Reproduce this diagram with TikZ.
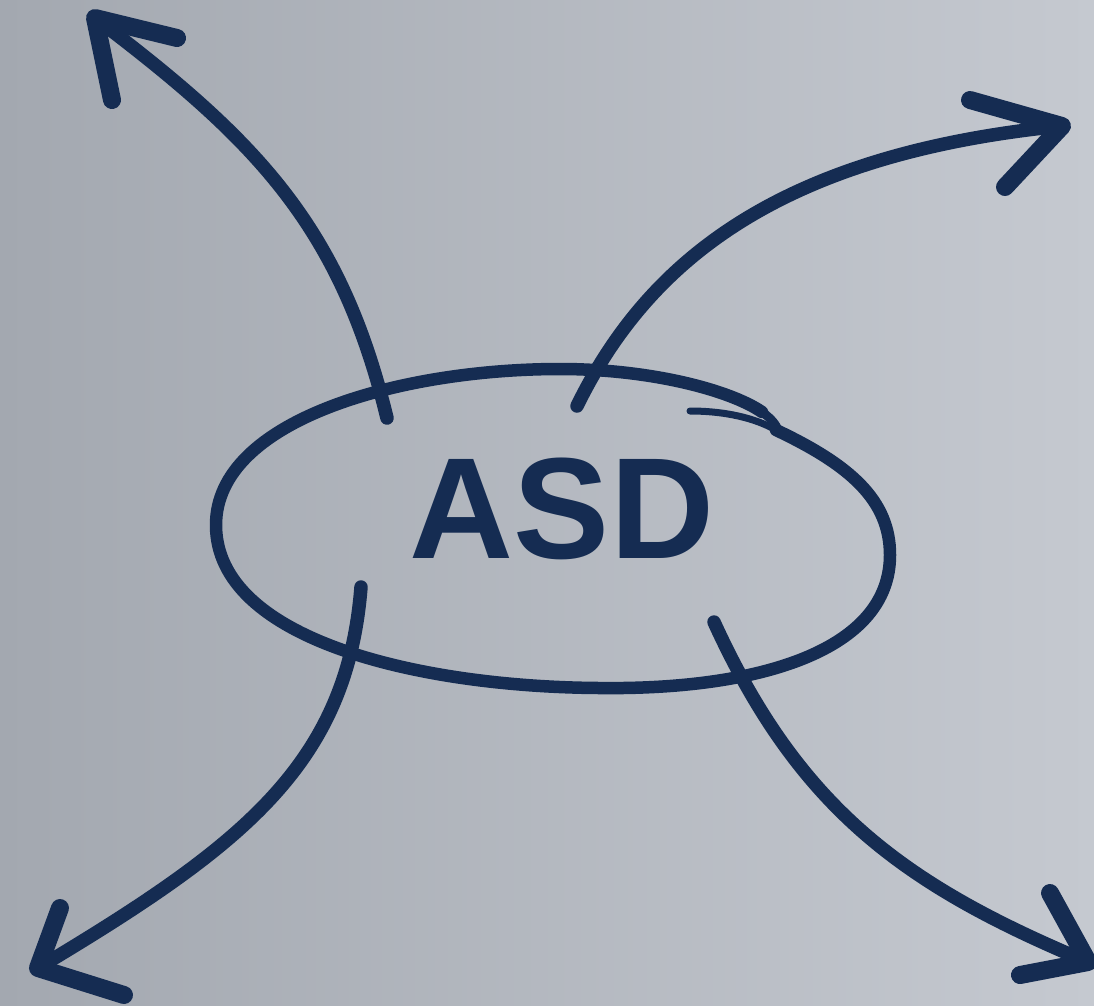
\documentclass[tikz,border=0pt]{standalone}
\usepackage{fontspec}
\setmainfont{Liberation Sans}
\begin{document}
\definecolor{ink}{RGB}{21,44,82}
\definecolor{bgleft}{RGB}{163,168,176}
\definecolor{bgright}{RGB}{197,201,208}
\begin{tikzpicture}[x=1pt,y=-1pt,
  stroke/.style={draw=ink,line width=13.5pt,line cap=round,line join=round},
  tail/.style={draw=ink,line width=7pt,line cap=round},
  head/.style={draw=ink,line width=18pt,line cap=round,line join=round}]
  % canvas with soft horizontal gradient
  \useasboundingbox (0,0) rectangle (1094,1005);
  \shade[left color=bgleft,right color=bgright] (0,0) rectangle (1094,1005);
  \clip (0,0) rectangle (1094,1005);

  % label in the middle
  \node[anchor=base,inner sep=0pt,text=ink,font=\fontsize{144}{144}\selectfont\bfseries] (asd) at (562,558) {ASD};

  % hand-drawn loop around the label
  \draw[stroke,line width=12.5pt]
    (776,430) .. controls (850,465) and (890,500) .. (890,555)
              .. controls (890,650) and (760,690) .. (600,688)
              .. controls (420,687) and (216,640) .. (216,525)
              .. controls (216,420) and (400,369) .. (560,369)
              .. controls (650,369) and (730,390) .. (762,412);
  \draw[ink,line width=9pt,line cap=round]
    (762,412) .. controls (772,419) and (776,425) .. (778,430);
  \draw[ink,line width=7pt,line cap=round]
    (690,411) .. controls (725,411) and (755,418) .. (776,430);

  % arrow ends (tails near the loop, tips near the corners)
  \coordinate (t1) at (387,418);  \coordinate (p1) at (95,18);
  \coordinate (t2) at (577,406);  \coordinate (p2) at (1062,126);
  \coordinate (t3) at (361,587);  \coordinate (p3) at (38,968);
  \coordinate (t4) at (714,622);  \coordinate (p4) at (1088,962);

  % curved shafts
  \draw[stroke] (t1) .. controls (340,225) and (256,140) .. (p1);
  \draw[stroke] (t2) .. controls (649,259) and (782,154) .. (p2);
  \draw[stroke] (t3) .. controls (347,765) and (242,846) .. (p3);
  \draw[stroke] (t4) .. controls (800,810) and (906,886) .. (p4);

  % tapered tails
  \draw[tail] (t1) -- ++(-3,-16);
  \draw[tail] (t2) -- ++(6,-16);
  \draw[tail] (t3) -- ++(-1,18);
  \draw[tail] (t4) -- ++(6,16);

  % open arrowheads
  \coordinate (a1) at (112,100);  \coordinate (b1) at (177,38);
  \coordinate (a2) at (970,100);  \coordinate (b2) at (1005,187);
  \coordinate (a3) at (60,908);   \coordinate (b3) at (124,995);
  \coordinate (a4) at (1050,893); \coordinate (b4) at (1020,975);
  \draw[head] (a1) -- (p1) -- (b1);
  \draw[head] (a2) -- (p2) -- (b2);
  \draw[head] (a3) -- (p3) -- (b3);
  \draw[head] (a4) -- (p4) -- (b4);
\end{tikzpicture}
\end{document}
